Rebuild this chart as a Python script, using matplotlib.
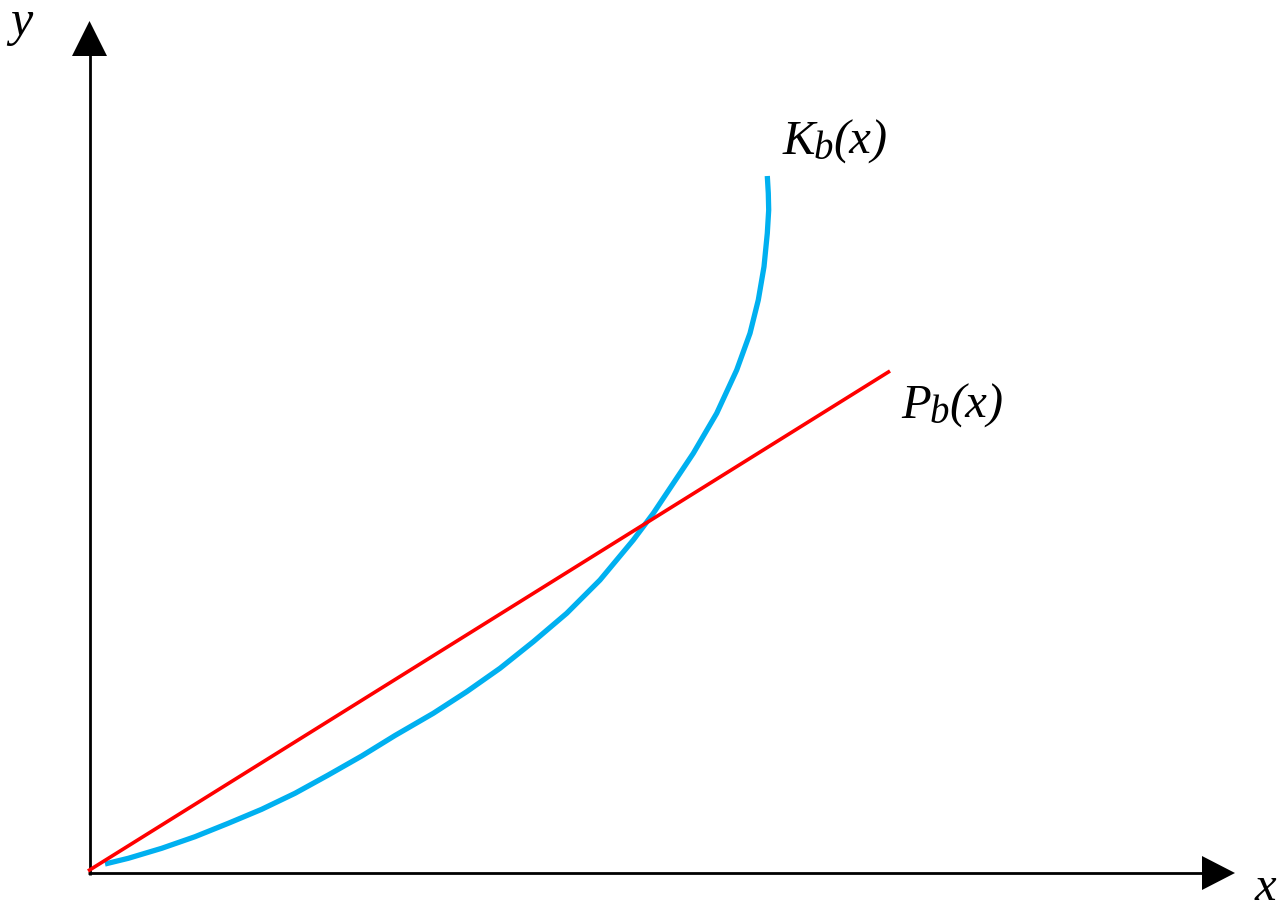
import matplotlib
matplotlib.use("Agg")
import matplotlib.pyplot as plt
from matplotlib.patches import Polygon

# Data (arbitrary units)
kb_x = [0.150, 0.383, 0.717, 1.050, 1.383, 1.717, 2.050, 2.383, 2.717, 3.050,
        3.433, 3.767, 4.100, 4.433, 4.767, 5.100, 5.433, 5.633, 5.833, 6.033,
        6.267, 6.467, 6.600, 6.683, 6.740, 6.773, 6.787, 6.783, 6.773]
kb_y = [0.090, 0.147, 0.247, 0.363, 0.497, 0.637, 0.797, 0.980, 1.170, 1.375,
        1.597, 1.813, 2.047, 2.313, 2.597, 2.930, 3.330, 3.597, 3.897, 4.197,
        4.597, 5.030, 5.397, 5.730, 6.063, 6.397, 6.630, 6.797, 6.970]
pb_x = [-0.02, 8.00]
pb_y = [0.02, 5.02]
label_main = ["K", "P"]
label_sub = ["b", "b"]
label_rest = ["(x)", "(x)"]
axis_labels = ["x", "y"]

SERIF = 'Liberation Serif'

fig = plt.figure(figsize=(12.85, 9.08), dpi=100)
ax = fig.add_axes([0, 0, 1, 1])
ax.set_xlim(-0.90, 11.95)
ax.set_ylim(-0.35, 8.73)
ax.axis('off')

# axes lines with arrowheads
ax.plot([-0.02, 11.15], [0, 0], color='black', lw=2.0, solid_capstyle='butt')
ax.plot([0, 0], [-0.02, 8.2], color='black', lw=2.0, solid_capstyle='butt')
ax.add_patch(Polygon([[11.12, -0.17], [11.12, 0.17], [11.45, 0.0]], closed=True, color='black', lw=0))
ax.add_patch(Polygon([[-0.18, 8.17], [0.17, 8.17], [-0.005, 8.52]], closed=True, color='black', lw=0))

ax.plot(kb_x, kb_y, color='#00B0F0', lw=3.8, solid_capstyle='butt', solid_joinstyle='round')
ax.plot(pb_x, pb_y, color='#FF0000', lw=2.6, solid_capstyle='butt')


def curve_label(x, y, main, sub, rest, fs=35, sfs=28):
    t1 = ax.text(x, y, main, fontsize=fs, family=SERIF, style='italic', va='baseline', ha='left')
    t2 = ax.annotate(sub, xy=(1, 0), xycoords=t1, xytext=(-1, -3), textcoords='offset points',
                     fontsize=sfs, family=SERIF, style='italic', va='bottom', ha='left')
    ax.annotate(rest, xy=(1, 0), xycoords=(t2, t1), xytext=(0, 0), textcoords='offset points',
                fontsize=fs, family=SERIF, style='italic', va='bottom', ha='left')


curve_label(6.93, 7.19, label_main[0], label_sub[0], label_rest[0])
curve_label(8.11, 4.55, label_main[1], label_sub[1], label_rest[1])

ax.text(11.75, -0.265, axis_labels[0], fontsize=35, ha='center', va='baseline', family=SERIF, style='italic')
ax.text(-0.69, 8.50, axis_labels[1], fontsize=36, ha='center', va='center', family=SERIF, style='italic')

fig.savefig('out.png', dpi=100)
